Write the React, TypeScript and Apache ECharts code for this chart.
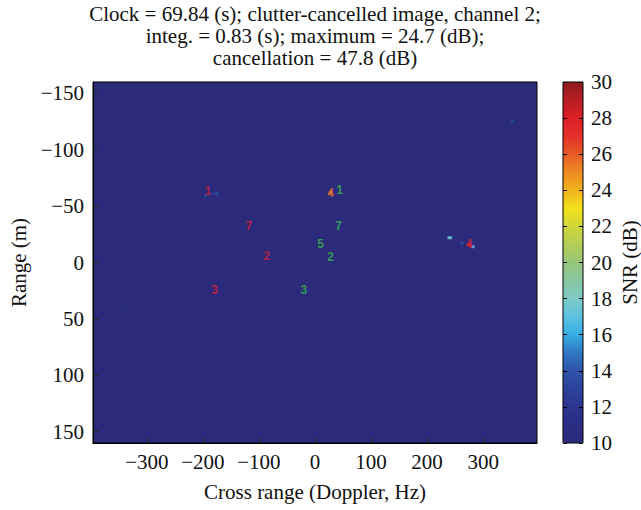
import React, { useEffect, useRef } from "react";
import * as echarts from "echarts";

const titleLines = [
  "Clock = 69.84 (s); clutter-cancelled image, channel 2;",
  "integ. = 0.83 (s); maximum = 24.7 (dB);",
  "cancellation = 47.8 (dB)",
];
const xTicks = [-300, -200, -100, 0, 100, 200, 300];
const yTicks = [-150, -100, -50, 0, 50, 100, 150];
const snrColors = [
  "#2b2a7b", "#2b2e84", "#2c358f", "#2d419b", "#2e52a8", "#3077c3", "#36ade4",
  "#5ec1df", "#7ecbc6", "#88c6a0", "#98c57c", "#b4cd55", "#d0d63a", "#f2e11c",
  "#f1b31e", "#ed8b22", "#e85b27", "#e3302a", "#dc1f27", "#b81e24", "#8b1c1f",
];
// bright pixels: doppler (Hz), range (m), SNR (dB)
const pixelX = [-195, -182, -175, 239, 242, 262, 275, 277, 282, 28, 352, 350, 122, -346];
const pixelY = [-59, -61, -61, -22, -22, -17, -16, -15, -14, -62, -125, -72, 100, 40];
const pixelSNR = [14, 13, 14, 18, 17, 14, 28, 27, 17, 24.7, 14, 12, 12, 12];
// annotation numbers
const redText = ["1", "7", "2", "3", "4"];
const redX = [-191, -118, -86, -179, 275];
const redY = [-63, -32, -6, 24, -16];
const orangeText = ["4"];
const orangeX = [28];
const orangeY = [-62];
const greenText = ["1", "7", "5", "2", "3"];
const greenX = [44, 42, 10, 28, -20];
const greenY = [-64, -32, -16, -5, 24];

const SERIF = "Liberation Serif";
const FS = 21;
const fmt = (v: number) => (v < 0 ? "\u2212" + Math.abs(v) : String(v));

function labelSeries(texts: string[], xs: number[], ys: number[], color: string) {
  return {
    type: "scatter",
    xAxisIndex: 0,
    yAxisIndex: 0,
    symbolSize: 1,
    itemStyle: { color: "rgba(0,0,0,0)" },
    z: 5,
    label: {
      show: true,
      position: "inside",
      formatter: (p: any) => p.name,
      color,
      fontFamily: "Liberation Sans",
      fontWeight: "bold",
      fontSize: 12,
    },
    data: texts.map((t, i) => ({ name: t, value: [xs[i], ys[i]] })),
  };
}

export default function App() {
  const ref = useRef<HTMLDivElement>(null);
  useEffect(() => {
    document.body.style.margin = "0";
    const chart = echarts.init(ref.current!, null, { renderer: "svg" });
    const tickStyle = { show: true, inside: true, length: 5, lineStyle: { color: "#222" } };
    const textBase = { fontFamily: SERIF, fontSize: FS, color: "#111" };
    chart.setOption({
      animation: false,
      backgroundColor: "#fff",
      textStyle: { fontFamily: SERIF },
      graphic: titleLines.map((t, i) => ({
        type: "text",
        x: 315,
        y: 14 + i * 22,
        style: {
          text: t,
          textAlign: "center",
          textVerticalAlign: "middle",
          font: `${FS}px '${SERIF}'`,
          fill: "#111",
        },
      })),
      grid: [
        {
          left: 92, top: 82, width: 445, height: 361,
          show: true, backgroundColor: "#2b2a7b", borderColor: "#000", borderWidth: 1,
        },
        {
          left: 563, top: 82, width: 20, height: 361,
          show: true, backgroundColor: "rgba(0,0,0,0)", borderColor: "#000", borderWidth: 1, z: 10,
        },
      ],
      xAxis: [
        {
          type: "value", gridIndex: 0, min: -396, max: 396,
          name: "Cross range (Doppler, Hz)", nameLocation: "middle", nameGap: 38,
          nameTextStyle: textBase,
          axisLine: { show: true, onZero: false, lineStyle: { color: "#000" } },
          axisTick: { ...tickStyle, customValues: xTicks },
          axisLabel: { customValues: xTicks, formatter: fmt, ...textBase, margin: 8 },
          splitLine: { show: false },
        },
        {
          type: "value", gridIndex: 1, min: 0, max: 1, show: false,
        },
      ],
      yAxis: [
        {
          type: "value", gridIndex: 0, min: -160, max: 160, inverse: true,
          name: "Range (m)", nameLocation: "middle", nameGap: 64,
          nameTextStyle: textBase,
          axisLine: { show: true, onZero: false, lineStyle: { color: "#000" } },
          axisTick: { ...tickStyle, customValues: yTicks },
          axisLabel: { customValues: yTicks, formatter: fmt, ...textBase, margin: 9 },
          splitLine: { show: false },
        },
        {
          type: "value", gridIndex: 1, min: 10, max: 30, interval: 2, position: "left", z: 10,
          axisLine: { show: false },
          axisTick: { show: true, inside: true, length: 4, lineStyle: { color: "#000" } },
          axisLabel: { show: false },
          splitLine: { show: false },
        },
        {
          type: "value", gridIndex: 1, min: 10, max: 30, interval: 2, position: "right", z: 10,
          name: "SNR (dB)", nameLocation: "middle", nameGap: 36,
          nameTextStyle: textBase,
          axisLine: { show: false },
          axisTick: { show: true, inside: true, length: 4, lineStyle: { color: "#000" } },
          axisLabel: { ...textBase, margin: 8 },
          splitLine: { show: false },
        },
      ],
      visualMap: {
        type: "continuous",
        min: 10, max: 30,
        seriesIndex: 0,
        dimension: 2,
        calculable: false,
        text: ["", ""],
        left: 563, top: 82,
        itemWidth: 20, itemHeight: 361,
        padding: 0,
        inRange: { color: snrColors },
      },
      series: [
        {
          type: "scatter",
          xAxisIndex: 0, yAxisIndex: 0,
          symbol: "rect",
          symbolSize: 3,
          data: pixelX.map((x, i) => [x, pixelY[i], pixelSNR[i]]),
        },
        labelSeries(redText, redX, redY, "#d4213a"),
        labelSeries(orangeText, orangeX, orangeY, "#e5682a"),
        labelSeries(greenText, greenX, greenY, "#3db54a"),
      ],
    });
    return () => chart.dispose();
  }, []);
  return <div ref={ref} style={{ width: 641, height: 510 }} />;
}
